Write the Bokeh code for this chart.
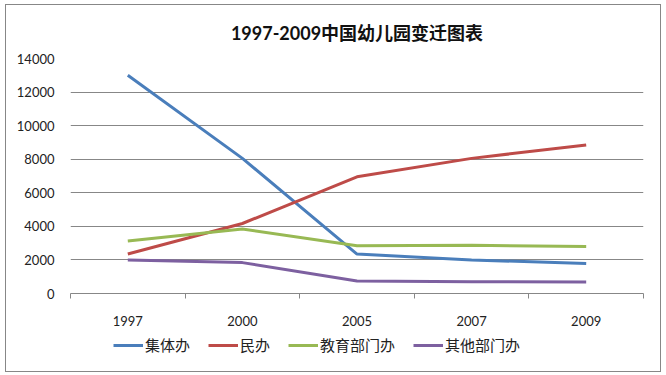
from bokeh.plotting import figure
from bokeh.layouts import column
from bokeh.models import (Range1d, LinearAxis, FixedTicker, CustomJSTickFormatter,
                          Legend, LegendItem)
from bokeh.embed import file_html
from bokeh.resources import INLINE

years = ["1997", "2000", "2005", "2007", "2009"]
collective = [13000, 8050, 2350, 2000, 1780]
private = [2350, 4170, 6950, 8050, 8850]
education = [3130, 3840, 2850, 2870, 2800]
other = [2000, 1840, 750, 700, 690]
series_names = ["集体办", "民办", "教育部门办", "其他部门办"]
series_colors = ["#4A7EBB", "#BE4B48", "#98B954", "#7D60A0"]
y_ticks = [0, 2000, 4000, 6000, 8000, 10000, 12000, 14000]
title_text = "1997-2009中国幼儿园变迁图表"

GRAY = "#878787"
LATIN = "Lato, Noto Sans CJK SC"

# category slots: each year occupies one unit band, point at band centre
xpos = [i + 0.5 for i in range(len(years))]
bounds = list(range(len(years) + 1))
all_series = [collective, private, education, other]

p = figure(x_range=Range1d(0, len(years)), y_range=Range1d(0, 14000),
           width=654, height=326, output_backend="svg", toolbar_location=None,
           x_axis_location=None, y_axis_location=None,
           min_border_left=64, min_border_right=17, min_border_top=52,
           min_border_bottom=38)
p.outline_line_color = None
p.background_fill_color = "white"
p.border_fill_color = "white"

p.title.text = title_text
p.title.align = "center"
p.title.text_font = LATIN
p.title.text_font_size = "18px"
p.title.text_font_style = "bold"
p.title.text_color = "#111111"
p.title.standoff = 29

# y axis
yax = LinearAxis(ticker=FixedTicker(ticks=y_ticks))
yax.axis_line_color = None
yax.major_tick_line_color = None
yax.minor_tick_line_color = None
yax.major_tick_out = 0
yax.major_tick_in = 0
yax.major_label_standoff = 16
yax.major_label_text_font = LATIN
yax.major_label_text_font_size = "13px"
yax.major_label_text_color = "#222222"
p.add_layout(yax, "left")

# boundary tick axis (tick marks only)
tax = LinearAxis(ticker=FixedTicker(ticks=bounds, minor_ticks=[]),
                 formatter=CustomJSTickFormatter(code="return '';"))
tax.axis_line_color = GRAY
tax.major_tick_line_color = GRAY
tax.minor_tick_line_color = None
tax.major_tick_out = 5
tax.major_tick_in = 0
tax.major_label_standoff = 0
p.add_layout(tax, "below")

# category label axis
xax = LinearAxis(ticker=FixedTicker(ticks=xpos, minor_ticks=[]),
                 formatter=CustomJSTickFormatter(args=dict(labels=years),
                                                 code="return labels[Math.floor(tick)];"))
xax.axis_line_color = None
xax.major_tick_line_color = None
xax.minor_tick_line_color = None
xax.major_tick_out = 0
xax.major_tick_in = 0
xax.major_label_standoff = 17
xax.major_label_text_font = LATIN
xax.major_label_text_font_size = "13px"
xax.major_label_text_color = "#222222"
p.add_layout(xax, "below")

p.xgrid.grid_line_color = None
p.ygrid.grid_line_color = GRAY
p.ygrid.ticker = FixedTicker(ticks=y_ticks)

for vals, color in zip(all_series, series_colors):
    p.line(xpos, vals, line_color=color, line_width=3)

# legend strip: same series drawn outside its visible range, legend only
lg = figure(x_range=Range1d(0, len(years)), y_range=Range1d(-2, -1),
            width=654, height=40, output_backend="svg", toolbar_location=None,
            x_axis_location=None, y_axis_location=None,
            min_border_left=0, min_border_right=0, min_border_top=0, min_border_bottom=0)
lg.outline_line_color = None
lg.xgrid.visible = False
lg.ygrid.visible = False
lg.background_fill_color = "white"
lg.border_fill_color = "white"
renderers = []
for vals, color in zip(all_series, series_colors):
    renderers.append(lg.line(xpos, vals, line_color=color, line_width=3))

legend = Legend(items=[LegendItem(label=n, renderers=[r]) for n, r in zip(series_names, renderers)],
                orientation="horizontal", location=(43, 16))
legend.padding = 0
legend.margin = 0
legend.spacing = 18
legend.glyph_width = 30
legend.glyph_height = 20
legend.label_height = 20
legend.label_standoff = 2
legend.border_line_color = None
legend.background_fill_alpha = 0
legend.label_text_font = "Noto Sans CJK SC"
legend.label_text_font_size = "15px"
legend.label_text_color = "#222222"
lg.add_layout(legend)

layout = column(p, lg, spacing=0)
layout.styles = {"border": "1px solid " + GRAY, "margin-left": "5px", "margin-top": "4px",
                 "background": "white"}

open("out.html", "w").write(file_html(layout, INLINE))
